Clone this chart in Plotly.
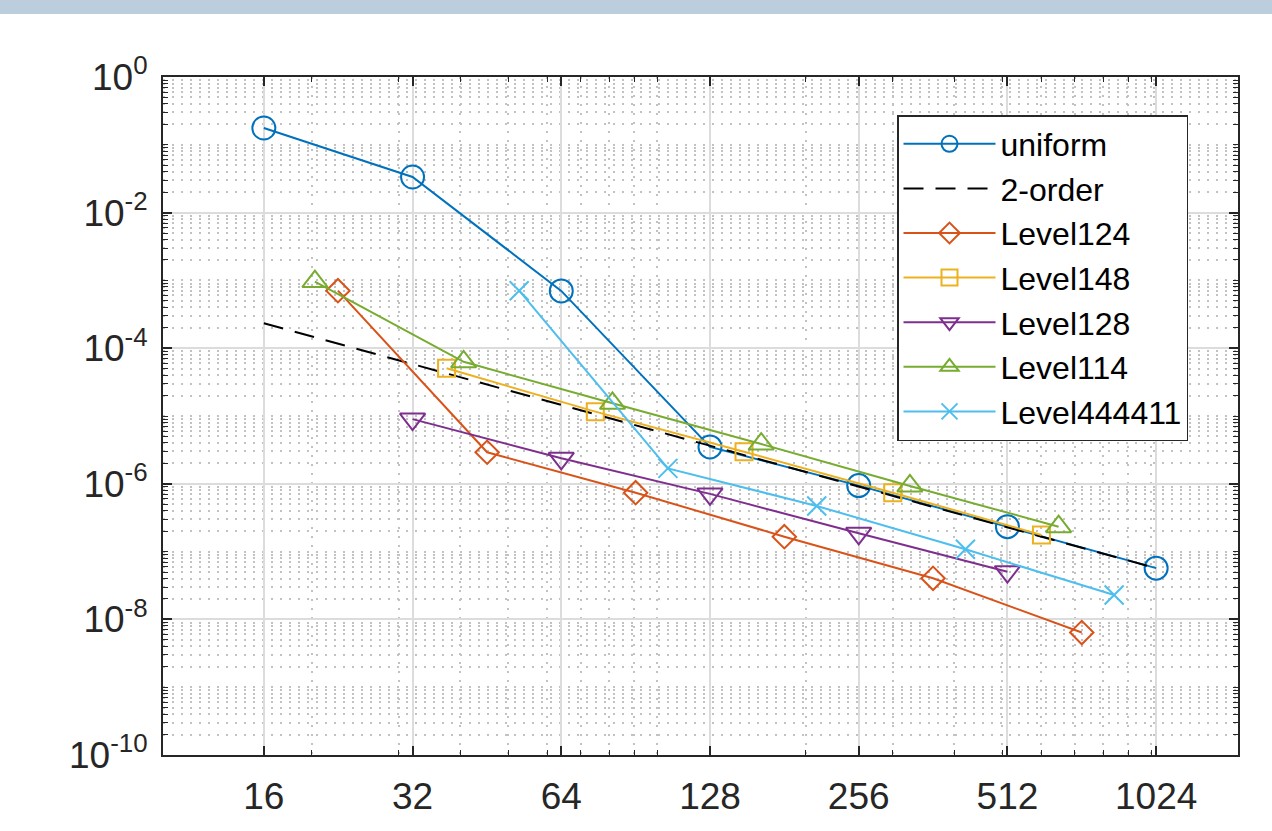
import plotly.graph_objects as go

# ---------------- data ----------------
x_uniform = [16, 32, 64, 128, 256, 512, 1024]
y_uniform = [0.177, 0.0335, 7.0e-4, 3.5e-6, 9.4e-7, 2.33e-7, 5.7e-8]

x_order2 = [16, 1024]
y_order2 = [2.33e-4, 5.7e-8]

x_l124 = [22.6, 45.3, 90.5, 181, 362, 724]
y_l124 = [7.05e-4, 2.92e-6, 7.4e-7, 1.66e-7, 4.04e-8, 6.4e-9]

x_l148 = [37.5, 75, 150, 300, 600]
y_l148 = [5.06e-5, 1.16e-5, 2.97e-6, 7.4e-7, 1.76e-7]

x_l128 = [32, 64, 128, 256, 512]
y_l128 = [9.0e-6, 2.38e-6, 7.1e-7, 1.86e-7, 5.06e-8]

x_l114 = [20.3, 40.6, 81.25, 162.5, 325, 650]
y_l114 = [9.6e-4, 6.3e-5, 1.54e-5, 3.86e-6, 9.3e-7, 2.33e-7]

x_l444411 = [52.6, 105.2, 210.5, 421, 842]
y_l444411 = [7.05e-4, 1.69e-6, 4.71e-7, 1.08e-7, 2.29e-8]

x_tickvals = [16, 32, 64, 128, 256, 512, 1024]
x_ticktext = ["16", "32", "64", "128", "256", "512", "1024"]
y_tickvals = [1, 1e-2, 1e-4, 1e-6, 1e-8, 1e-10]
y_ticktext = ["10<sup>0</sup>", "10<sup>-2</sup>", "10<sup>-4</sup>",
              "10<sup>-6</sup>", "10<sup>-8</sup>", "10<sup>-10</sup>"]

x_minor = [k * 10 ** e for e in (1, 2, 3) for k in range(1, 10) if k * 10 ** e <= 1500]
y_minor = [k * 10.0 ** e for e in range(-10, 0) for k in range(1, 10)]

# ---------------- styles ----------------
C_BLUE = "#0072BD"
C_ORANGE = "#D95319"
C_YELLOW = "#EDB120"
C_PURPLE = "#7E2F8E"
C_GREEN = "#77AC30"
C_CYAN = "#4DBEEE"
AX = "#262626"
FONT = "Liberation Sans, Arial, Helvetica, sans-serif"

fig = go.Figure()

def add(x, y, name, color, symbol, size):
    fig.add_trace(go.Scatter(
        x=x, y=y, name=name, mode="lines+markers",
        line=dict(color=color, width=2),
        marker=dict(symbol=symbol, size=size, color=color,
                    line=dict(color=color, width=2)),
    ))

add(x_uniform, y_uniform, "uniform", C_BLUE, "circle-open", 23)
fig.add_trace(go.Scatter(
    x=x_order2, y=y_order2, name="2-order", mode="lines",
    line=dict(color="black", width=2, dash="20px,12px"),
))
add(x_l124, y_l124, "Level124", C_ORANGE, "diamond-open", 18)
add(x_l148, y_l148, "Level148", C_YELLOW, "square-open", 17)
add(x_l128, y_l128, "Level128", C_PURPLE, "triangle-down-open", 22)
add(x_l114, y_l114, "Level114", C_GREEN, "triangle-up-open", 22)
add(x_l444411, y_l444411, "Level444411", C_CYAN, "x-thin-open", 19)

minor_grid = dict(showgrid=True, gridcolor="#c2c2c2", gridwidth=1.5,
                  griddash="1.5px,7.5px")

fig.update_layout(
    width=1272, height=831,
    margin=dict(l=163, r=34, t=77, b=76),
    paper_bgcolor="white", plot_bgcolor="white",
    font=dict(family=FONT, color=AX, size=37),
    showlegend=True,
    legend=dict(
        x=(897 - 163) / 1075, y=(755 - 115) / 678,
        xanchor="left", yanchor="top",
        bgcolor="white", bordercolor=AX, borderwidth=1.5,
        font=dict(family=FONT, size=32, color="black"),
        itemwidth=92,
    ),
    shapes=[dict(
        type="rect", xref="paper", yref="paper",
        x0=-163 / 1075, x1=1 + 34 / 1075,
        y0=1 + 63 / 678, y1=1 + 77 / 678,
        fillcolor="#bccddd", line=dict(width=0), layer="below",
    )],
)

fig.update_xaxes(
    type="log", range=[1, 3.176],
    tickmode="array", tickvals=x_tickvals, ticktext=x_ticktext,
    ticks="inside", ticklen=9, tickwidth=1.5, tickcolor=AX,
    ticklabelstandoff=8,
    showline=True, linecolor=AX, linewidth=2, mirror="allticks",
    showgrid=True, gridcolor="#dcdcdc", gridwidth=1.5,
    minor=dict(tickmode="array", tickvals=x_minor, ticks="inside",
               ticklen=5, tickwidth=1.2, tickcolor=AX, **minor_grid),
    tickfont=dict(family=FONT, size=37, color=AX),
    zeroline=False,
)
fig.update_yaxes(
    type="log", range=[-10, 0],
    tickmode="array", tickvals=y_tickvals, ticktext=y_ticktext,
    ticks="inside", ticklen=9, tickwidth=1.5, tickcolor=AX,
    ticklabelstandoff=6,
    showline=True, linecolor=AX, linewidth=2, mirror="allticks",
    showgrid=True, gridcolor="#dcdcdc", gridwidth=1.5,
    minor=dict(tickmode="array", tickvals=y_minor, ticks="inside",
               ticklen=5, tickwidth=1.2, tickcolor=AX, **minor_grid),
    tickfont=dict(family=FONT, size=37, color=AX),
    zeroline=False,
)

fig.write_html("out.html")
